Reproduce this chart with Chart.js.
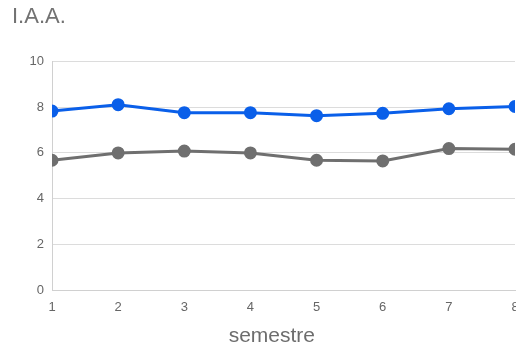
<!DOCTYPE html>
<html>
<head>
<meta charset="utf-8">
<script src="https://cdn.jsdelivr.net/npm/chart.js@4/dist/chart.umd.min.js"></script>
<style>
  html, body { margin: 0; padding: 0; background: #fff; overflow: hidden; }
  #wrap { width: 523px; height: 349px; }
</style>
</head>
<body>
<div id="wrap"><canvas id="lineChart"></canvas></div>
<script>
// semesters on the x axis
const semesters = [1, 2, 3, 4, 5, 6, 7, 8];
// I.A.A. per semester, two series
const iaaBlue = [7.83, 8.11, 7.76, 7.76, 7.63, 7.73, 7.93, 8.03];
const iaaGray = [5.68, 6.0, 6.08, 6.0, 5.68, 5.65, 6.19, 6.16];
const yTicks = [0, 2, 4, 6, 8, 10];

const toPoints = vals => vals.map((v, i) => ({ x: semesters[i], y: v }));

const fontFamily = "Arial, 'Liberation Sans', sans-serif";
const tickFont = { family: fontFamily, size: 13 };

var ctx = document.getElementById("lineChart").getContext("2d");
var lineChart = new Chart(ctx, {
  type: "line",
  data: {
    datasets: [
      {
        label: "I.A.A. (azul)",
        data: toPoints(iaaBlue),
        borderColor: "#0a5fe9",
        backgroundColor: "#0a5fe9",
        borderWidth: 3,
        pointRadius: 5,
        pointHoverRadius: 5,
      },
      {
        label: "I.A.A. (cinza)",
        data: toPoints(iaaGray),
        borderColor: "#6f6f6f",
        backgroundColor: "#6f6f6f",
        borderWidth: 3,
        pointRadius: 5,
        pointHoverRadius: 5,
      },
    ],
  },
  options: {
    responsive: true,
    maintainAspectRatio: false,
    animation: false,
    layout: { padding: { left: 12, top: 4, right: 0, bottom: 0 } },
    plugins: {
      legend: { display: false },
      tooltip: { enabled: false },
      title: {
        display: true,
        text: "I.A.A.",
        align: "start",
        color: "#727272",
        font: { family: fontFamily, size: 22, weight: "normal" },
        padding: { top: 0, bottom: 31 },
      },
    },
    scales: {
      x: {
        type: "linear",
        min: 1,
        max: 8,
        afterBuildTicks: scale => { scale.ticks = semesters.map(v => ({ value: v })); },
        grid: { display: false },
        border: { color: "#d0d0d0", width: 1 },
        ticks: { color: "#666", font: tickFont, padding: 1 },
        title: {
          display: true,
          // trailing spaces nudge the centred label a little to the left
          text: "semestre    ",
          color: "#6d6d6d",
          font: { family: fontFamily, size: 21 },
          padding: { top: 8, bottom: 0 },
        },
      },
      y: {
        min: 0,
        max: 10,
        afterBuildTicks: scale => { scale.ticks = yTicks.map(v => ({ value: v })); },
        afterFit: scale => { scale.width = 40; },
        grid: { color: "#dcdcdc", drawTicks: false },
        border: { color: "#d0d0d0", width: 1 },
        ticks: { color: "#666", font: tickFont, padding: 8 },
      },
    },
  },
});
</script>
</body>
</html>
